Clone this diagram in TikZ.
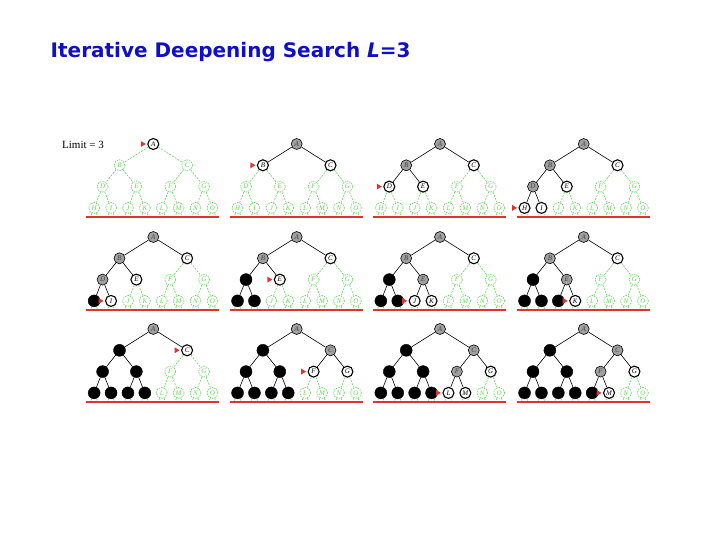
\documentclass[tikz,border=0pt]{standalone}
\usepackage{fontspec}
\setmainfont{DejaVu Sans}
\newfontfamily\serifL{Liberation Serif}
\usetikzlibrary{calc}
\definecolor{titleblue}{RGB}{15,15,195}
\definecolor{tgreen}{RGB}{100,215,90}
\definecolor{tgrey}{RGB}{160,160,160}
\definecolor{tred}{RGB}{225,50,50}
\tikzset{
  tn/.style={circle, minimum size=11pt, inner sep=0pt, font=\serifL\itshape\fontsize{7}{7}\selectfont},
  st0/.style={tn, draw=tgreen, line width=0.6pt, dash pattern=on 1.5pt off 1pt, fill=white, text=tgreen},
  st1/.style={tn, draw=black, line width=1.1pt, fill=white, text=black},
  st2/.style={tn, draw=black, line width=0.6pt, fill=tgrey, text=black!75},
  st3/.style={tn, draw=black, fill=black, minimum size=12pt},
  e0/.style={draw=tgreen, line width=0.6pt, dash pattern=on 2pt off 1.2pt},
  e1/.style={draw=black, line width=0.6pt},
  redline/.style={draw=tred, line width=1.8pt},
  ptr/.style={fill=tred},
}
\newcommand\drawidstree[5]{%
  \begin{scope}[shift={(#2,#3)}]
    \coordinate (#1-r1) at (-67,72.9);
    \coordinate (#1-r2) at (66,72.9);
    \foreach \n/\px/\py [count=\i from 0] in {A/0/0,B/-33.8/1,C/33.8/1,D/-50.7/2,E/-16.9/2,F/16.9/2,G/50.7/2,H/-59.15/3,I/-42.25/3,J/-25.35/3,K/-8.45/3,L/8.45/3,M/25.35/3,N/42.25/3,O/59.15/3}{
      \pgfmathtruncatemacro\s{{#4}[\i]}
      \ifnum\s=3
        \node[st3] (#1-\n) at (\px,\py*21.3) {};
      \else
        \node[st\s] (#1-\n) at (\px,\py*21.3) {\n};
      \fi
    }
    \foreach \p/\c [count=\i from 1] in {A/B,A/C,B/D,B/E,C/F,C/G,D/H,D/I,E/J,E/K,F/L,F/M,G/N,G/O}{
      \pgfmathtruncatemacro\s{{#4}[\i]}
      \ifnum\s=0
        \draw[e0] (#1-\p) -- (#1-\c);
      \else
        \draw[e1] (#1-\p) -- (#1-\c);
      \fi
    }
    \foreach \n in {H,I,J,K,L,M,N,O}{
      \draw[e0] (#1-\n.-112) -- ++(-1.5,3.5);
      \draw[e0] (#1-\n.-68) -- ++(1.5,3.5);
    }
    \fill[ptr] ($(#1-#5.west)+(-1.5,0)$) -- ++(-5,-3) -- ++(0,6) -- cycle;
  \end{scope}
}
\begin{document}
\begin{tikzpicture}[x=1pt,y=-1pt]
\useasboundingbox (0,0) rectangle (720,540);
\node[anchor=base west, inner sep=0pt, text=titleblue, font=\bfseries\fontsize{20}{24}\selectfont] (title) at (50.5,57.3) {Iterative Deepening Search \textit{L}=3};
\node[anchor=base west, inner sep=0pt, font=\serifL\fontsize{11}{12}\selectfont] (limit) at (62,148.3) {Limit = 3};
% row 1
\drawidstree{t1}{153.3}{144}{1,0,0,0,0,0,0,0,0,0,0,0,0,0,0}{A}
\drawidstree{t2}{296.7}{144}{2,1,1,0,0,0,0,0,0,0,0,0,0,0,0}{B}
\drawidstree{t3}{440}{144}{2,2,1,1,1,0,0,0,0,0,0,0,0,0,0}{D}
\drawidstree{t4}{583.7}{144}{2,2,1,2,1,0,0,1,1,0,0,0,0,0,0}{H}
% row 2
\drawidstree{t5}{153.3}{237}{2,2,1,2,1,0,0,3,1,0,0,0,0,0,0}{I}
\drawidstree{t6}{296.7}{237}{2,2,1,3,1,0,0,3,3,0,0,0,0,0,0}{E}
\drawidstree{t7}{440}{237}{2,2,1,3,2,0,0,3,3,1,1,0,0,0,0}{J}
\drawidstree{t8}{583.7}{237}{2,2,1,3,2,0,0,3,3,3,1,0,0,0,0}{K}
% row 3
\drawidstree{t9}{153.3}{329}{2,3,1,3,3,0,0,3,3,3,3,0,0,0,0}{C}
\drawidstree{t10}{296.7}{329}{2,3,2,3,3,1,1,3,3,3,3,0,0,0,0}{F}
\drawidstree{t11}{440}{329}{2,3,2,3,3,2,1,3,3,3,3,1,1,0,0}{L}
\drawidstree{t12}{583.7}{329}{2,3,2,3,3,2,1,3,3,3,3,3,1,0,0}{M}
% limit lines
\foreach \t in {t1,t2,t3,t4,t5,t6,t7,t8,t9,t10,t11,t12}{
  \draw[redline] (\t-r1) -- (\t-r2);
}
\end{tikzpicture}
\end{document}
